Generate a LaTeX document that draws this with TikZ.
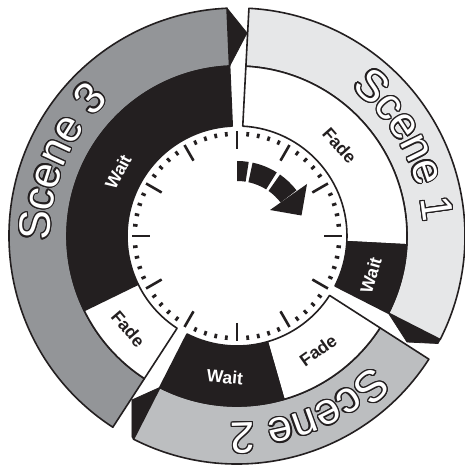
\documentclass[tikz,border=0pt]{standalone}
\usepackage{fontspec}
\setmainfont{Liberation Sans}
\usepackage[copies]{contour}
\contourlength{1.3pt}
\contournumber{16}
\definecolor{sceneA}{HTML}{E6E7E8}
\definecolor{sceneB}{HTML}{BCBEC0}
\definecolor{sceneC}{HTML}{939598}
\definecolor{ink}{HTML}{231F20}
% #1 style, #2 start angle, #3 end angle, #4 inner radius, #5 outer radius
\newcommand\ringpart[5]{\path[#1] (#2:#4) arc[start angle=#2, end angle=#3, radius=#4] -- (#3:#5) arc[start angle=#3, end angle=#2, radius=#5] -- cycle;}
\begin{document}
\begin{tikzpicture}[x=1pt,y=1pt,
  seg/.style={draw=ink, line width=1.6pt, line join=round},
  face/.style={fill=ink, draw=ink, line width=0.8pt, line join=round},
  lbl/.style={font=\bfseries\fontsize{17.5}{17.5}\selectfont, inner sep=0pt},
  scn/.style={font=\fontsize{44}{44}\selectfont, inner sep=0pt, anchor=base, text=white},
  majtick/.style={draw=ink, line width=2.6pt},
  mintick/.style={draw=ink, line width=2.8pt}]
\useasboundingbox (-237,-232) rectangle (228,236);
\fill[white] (-237,-232) rectangle (228,236);
% 3D end faces
\fill[face] (92.5:228) -- (10,203) -- (92.5:170) -- cycle;
\fill[face] (-27:170) -- (-27:228) -- (201,-107.5) -- (170,-106) -- cycle;
\fill[face] (-117:170) -- (-105,-164) -- (-105,-201) -- (-117:228) -- cycle;
% Scene 1
\ringpart{seg, fill=sceneA}{87}{-27}{170}{228}
\ringpart{seg, fill=white}{87}{-3}{110}{170}
\ringpart{seg, fill=ink}{-3}{-27}{110}{170}
% Scene 2
\ringpart{seg, fill=sceneB}{-32.7}{-117}{170}{228}
\ringpart{seg, fill=white}{-32.7}{-74}{110}{170}
\ringpart{seg, fill=ink}{-74}{-117}{110}{170}
% Scene 3
\ringpart{seg, fill=sceneC}{92.5}{237}{170}{228}
\ringpart{seg, fill=ink}{92.5}{206}{110}{170}
\ringpart{seg, fill=white}{206}{237}{110}{170}
% clock ticks
\foreach \b in {0,30,...,330} {
  \draw[majtick] (\b:87) -- (\b:105);
  \foreach \c in {6,12,18,24} \draw[mintick] ({\b+\c}:100) -- ({\b+\c}:104.5);
}
% curved arrow
\ringpart{fill=ink}{90}{81}{55}{75}
\ringpart{fill=ink}{78}{58}{55}{75}
\ringpart{fill=ink}{55}{37.5}{55}{75}
\fill[ink] (33,26) -- (70,52) -- (64.5,20.5) -- cycle;
% inner labels
\node[lbl, text=white, rotate=61.7] (w3) at (151.7:135) {Wait};
\node[lbl, text=ink, rotate=-48.5] (f1) at (41.5:137) {Fade};
\node[lbl, text=white, rotate=73.6] (w1) at (-16.4:139.5) {Wait};
\node[lbl, text=ink, rotate=35.4] (f2) at (-54.6:140) {Fade};
\node[lbl, text=white, rotate=-4.9] (w2) at (-94.9:141.5) {Wait};
\node[lbl, text=ink, rotate=-49.5] (f3) at (220.5:143) {Fade};
% scene labels
\foreach \a/\ch in {177/S,169.34/c,162.4/e,155.1/n,147.8/e,136.86/3,
                    48/S,40.34/c,33.4/e,26.1/n,18.8/e,7.86/1,
                    -48.2/S,-55.86/c,-62.8/e,-70.1/n,-77.4/e,-88.34/2}
  \node[scn, rotate=\a-90] at (\a:187) {\contour{ink}{\ch}};
\end{tikzpicture}
\end{document}
